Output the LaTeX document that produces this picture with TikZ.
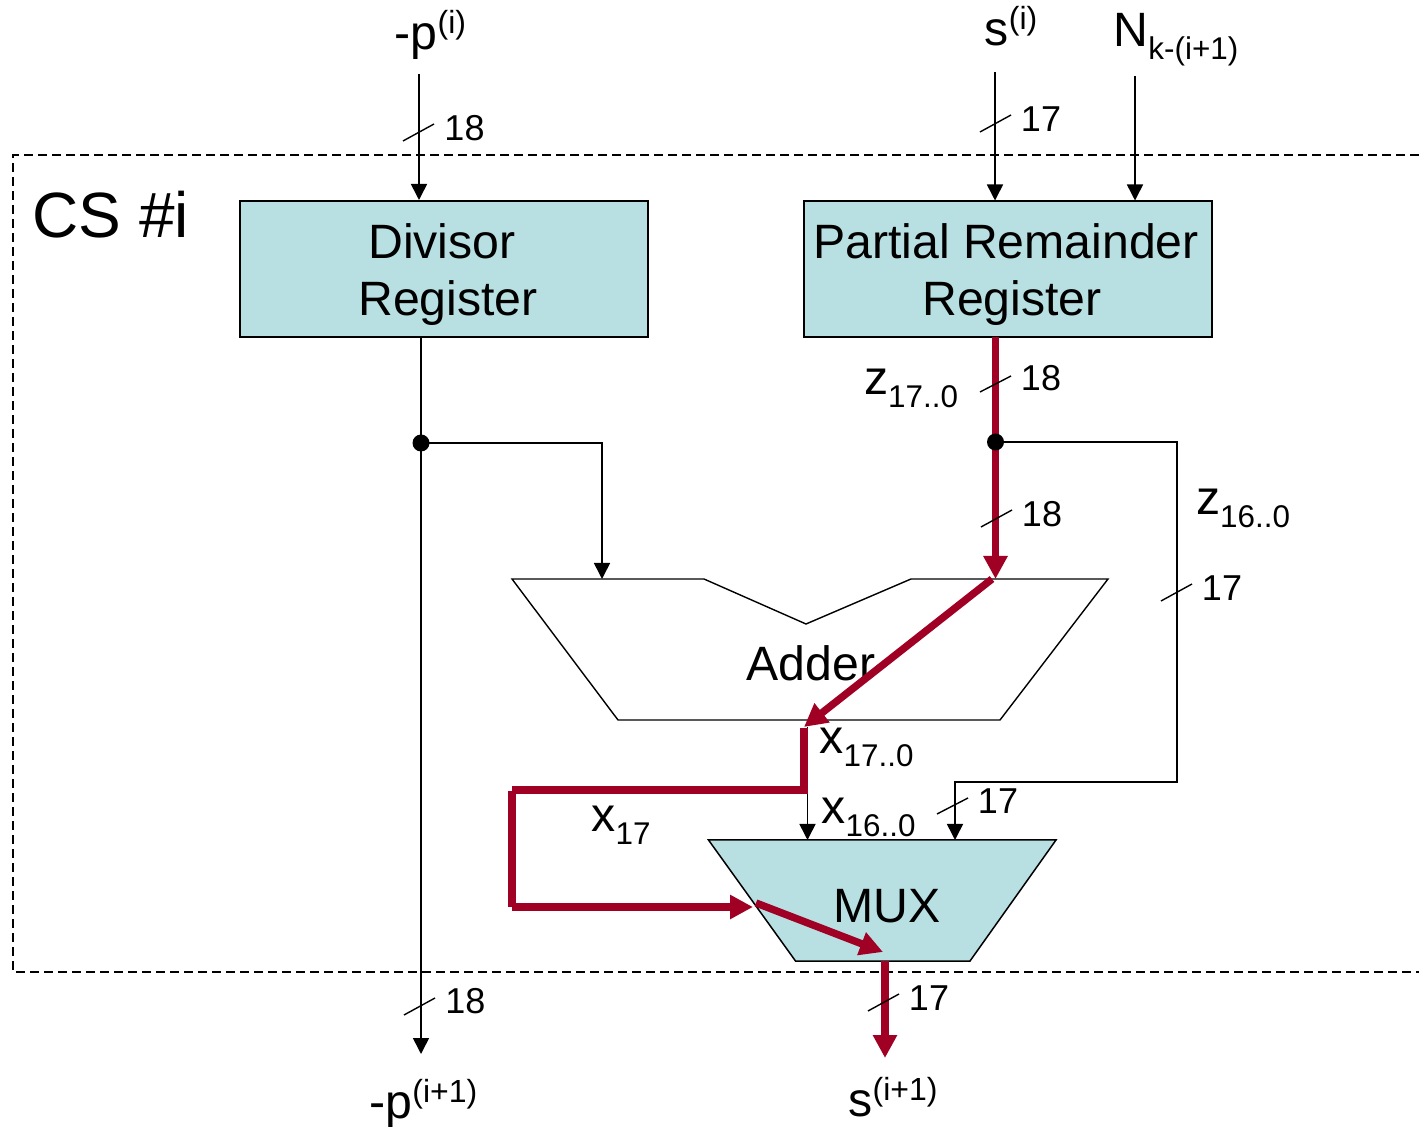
\documentclass[tikz,border=0pt]{standalone}
\usepackage{fontspec}
\setmainfont{Liberation Sans}
\usetikzlibrary{arrows.meta}
\definecolor{boxfill}{RGB}{184,224,226}
\definecolor{red1}{RGB}{160,0,36}
\tikzset{x=0.5pt,y=-0.5pt,
 wire/.style={draw=black,line width=0.8pt,-{Triangle[length=8pt,width=8pt]}},
 plain/.style={draw=black,line width=0.8pt},
 hot/.style={draw=red1,line width=3.7pt},
 hotarrow/.style={hot,-{Triangle[length=11.5pt,width=11.5pt,fill=red1]}},
 block/.style={draw=black,line width=0.75pt,fill=boxfill},
 tick/.style={draw=black,line width=0.7pt},
 lab/.style={inner sep=0pt,anchor=base,font=\fontsize{18}{18}\selectfont},
 big/.style={inner sep=0pt,anchor=base,font=\fontsize{24.1}{24}\selectfont},
 dot/.style={circle,fill=black,inner sep=0pt,minimum size=8.5pt}}
\newcommand{\sbs}[2]{#1{\fontsize{15.7}{16}\selectfont\raisebox{-6.2pt}{#2}}}
\newcommand{\sps}[2]{#1{\fontsize{16}{16}\selectfont\raisebox{8pt}{#2}}}
\begin{document}
\begin{tikzpicture}
\useasboundingbox (0,0) rectangle (1419,1127);
% frame
\draw[black,line width=0.7pt,dash pattern=on 4.5pt off 2.5pt] (1419,155) -- (13,155) -- (13,972) -- (1419,972);
% coordinates
\coordinate (pin) at (419,74);
\coordinate (sin) at (995,72);
\coordinate (nin) at (1135,76);
\coordinate (pout) at (421,1054);
\coordinate (sout) at (885,1058);
% blocks
\node[block,minimum width=204pt,minimum height=68pt,inner sep=0pt] (div) at (444,269) {};
\node[block,minimum width=204pt,minimum height=68pt,inner sep=0pt] (rem) at (1008,269) {};
\node[big] (divt1) at (442,258.5) {Divisor};
\node[big] (divt2) at (448,315.5) {Register};
\node[big] (remt1) at (1006,258.5) {Partial Remainder};
\node[big] (remt2) at (1012,315.5) {Register};
% adder
\draw[plain,line width=0.7pt] (512,579) -- (704,579) -- (806,624) -- (911,579) -- (1108,579) -- (1000,720) -- (618,720) -- cycle;
\coordinate (addl) at (602,579);
\coordinate (addr) at (995.5,579);
\node[big] (addt) at (811,681) {Adder};
% mux
\draw[block] (708.5,840) -- (1056,840) -- (970,961) -- (795.5,961) -- cycle;
\coordinate (muxb) at (955,840);
\coordinate (muxc) at (753,907);
\coordinate (muxd) at (883,952);
\coordinate (muxo) at (885,961);
\node[big] (muxt) at (887,922) {MUX};
% junctions
\coordinate (jc1) at (421,443);
\coordinate (jc2) at (995.5,442);
% thin wires
\draw[wire] (pin) -- (419,200);
\draw[wire] (sin) -- (995,200.5);
\draw[wire] (nin) -- (1135,200.5);
\draw[plain] (421,337) -- (jc1);
\draw[wire] (jc1) -- (pout);
\draw[wire] (jc1) -| (addl);
\draw[wire] (jc2) -- (1177,442) -- (1177,782) -- (955,782) -- (muxb);
\draw[wire] (807.5,727) -- (807.5,840);
% hot wires
\draw[hot] (995.5,337) -- (jc2);
\draw[hotarrow] (jc2) -- (addr);
\draw[hotarrow] (992,579) -- (804,727);
\draw[hot] (804,728) -- (804,794);
\draw[hot] (807,790) -- (512,790);
\draw[hot] (512,791) -- (512,907);
\draw[hotarrow] (512,907) -- (muxc);
\draw[hotarrow] (756,903) -- (muxd);
\draw[hotarrow] (muxo) -- (sout);
% dots on top
\node[dot] (j1) at (jc1) {};
\node[dot] (j2) at (jc2) {};
% ticks
\draw[tick] (403,141) -- (434,124);
\draw[tick] (980,132) -- (1011,115);
\draw[tick] (980,392) -- (1011,376);
\draw[tick] (981,527) -- (1012,510);
\draw[tick] (1161,601) -- (1192,584);
\draw[tick] (937,814) -- (968,798);
\draw[tick] (404,1015) -- (435,998);
\draw[tick] (868,1011) -- (899,994);
% labels
\node[lab] (l1) at (464.5,141) {18};
\node[lab] (l2) at (1041,132) {17};
\node[lab] (l3) at (1041,391) {18};
\node[lab] (l4) at (1042,527) {18};
\node[lab] (l5) at (1222,601) {17};
\node[lab] (l6) at (998,813.5) {17};
\node[lab] (l7) at (465.5,1013.5) {18};
\node[lab] (l8) at (929,1010.5) {17};
\node[big] (t1) at (430.5,50) {\sps{-p}{(i)}};
\node[big] (t2) at (1011,46) {\sps{s}{(i)}};
\node[big] (t3) at (1176,47) {\sbs{N}{k-(i+1)}};
\node[big] (t4) at (423.5,1118) {\sps{-p}{(i+1)}};
\node[big] (t5) at (893,1116) {\sps{s}{(i+1)}};
\node[big] (t6) at (911,395) {\sbs{z}{17..0}};
\node[big] (t7) at (1243,515) {\sbs{z}{16..0}};
\node[big] (t8) at (866.5,754) {\sbs{x}{17..0}};
\node[big] (t9) at (868.5,824) {\sbs{x}{16..0}};
\node[big] (t10) at (621,832) {\sbs{x}{17}};
\node[inner sep=0pt,anchor=base,font=\fontsize{32}{32}\selectfont] (cs) at (111,238) {CS \#i};
\end{tikzpicture}
\end{document}
